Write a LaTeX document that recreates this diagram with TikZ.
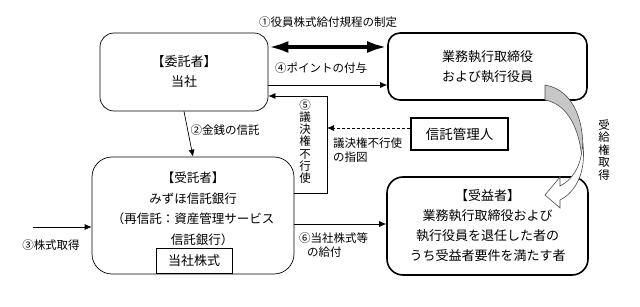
\documentclass[tikz,border=0pt]{standalone}
\usepackage{fontspec}
\setmainfont{Noto Sans CJK JP}
\usetikzlibrary{arrows.meta}

\begin{document}
\begin{tikzpicture}[x=1pt,y=-1pt,
  party/.style={draw,align=center,font=\fontsize{13}{20}\selectfont},
  lbl/.style={font=\fontsize{11.5}{14}\selectfont,inner sep=0pt},
  flow/.style={-{Latex[length=7pt,width=6pt]},line width=0.7pt}]
  \useasboundingbox (0,0) rectangle (640,307);

  % Parties.
  \node[party,rounded corners=14pt,line width=0.7pt,minimum width=168pt,minimum height=78pt]
    (entrust) at (184,72) {【委託者】\\当社};
  \node[party,rounded corners=12pt,line width=1.6pt,minimum width=199pt,minimum height=67pt]
    (officer) at (487.5,66.5) {業務執行取締役\\および執行役員};
  \node[party,rounded corners=20pt,line width=0.7pt,minimum width=202pt,minimum height=117pt]
    (trust) at (193,215.5) {};
  \node[party,rounded corners=16pt,line width=1.6pt,minimum width=201pt,minimum height=98pt]
    (benef) at (487.5,226) {【受益者】\\業務執行取締役および\\執行役員を退任した者の\\うち受益者要件を満たす者};
  \node[party,line width=1.3pt,minimum width=97pt,minimum height=32pt,font=\fontsize{13.5}{16}\selectfont]
    (admin) at (459.5,134) {信託管理人};

  % Trustee text and shares.
  \node[align=center,font=\fontsize{12.5}{20.6}\selectfont] (trusttext) at (193,209) {【受託者】\\みずほ信託銀行\\（再信託：資産管理サービス\\\hspace*{18pt}信託銀行）};
  \node[draw,line width=0.7pt,minimum width=76pt,minimum height=25pt,font=\fontsize{13}{16}\selectfont]
    (shares) at (194,260.5) {当社株式};

  % Connectors.
  \draw[{Latex[length=20pt,width=12pt]}-{Latex[length=20pt,width=12pt]},line width=4pt]
    (entrust.east |- 0,47) -- (officer.west |- 0,47);
  \draw[flow] (entrust.east |- 0,85) -- (officer.west |- 0,85);
  \draw[flow] (entrust.south) -- (trust.north);
  \coordinate (bend) at (327,96);
  \draw[flow] (trust.east |- 0,193) -| (bend) -- (entrust.east |- bend);
  \draw[flow,dash pattern=on 3pt off 2pt] (admin.west |- 0,128) -- (bend |- 0,128);
  \draw[flow] (trust.east |- 0,224) -- (benef.west |- 0,224);
  \coordinate (buy) at (33,227);
  \draw[flow] (buy) -- (trust.west |- buy);

  % Curved arrow.
  \filldraw[fill=black!22,draw=black!70,line width=0.6pt]
    (545,85) -- (545,100) .. controls (568,104) and (580,130) .. (582,160)
    .. controls (586,125) and (575,90) .. cycle;
  \filldraw[fill=white,draw=black!70,line width=0.6pt]
    (583,145) .. controls (586,172) and (576,192) .. (560,200) -- (560,208) -- (545,195)
    -- (560,177) -- (560,186) .. controls (572,180) and (580,168) .. (582,150) -- cycle;

  % Labels.
  \node[lbl] (l1) at (328,22) {①役員株式給付規程の制定};
  \node[lbl] (l4) at (321,68) {④ポイントの付与};
  \node[lbl] (l2) at (225,130) {②金銭の信託};
  \node[lbl] (l3) at (51,245) {③株式取得};
  \node[lbl,align=center,font=\fontsize{11.5}{12.2}\selectfont] (l5) at (305,141.5) {⑤\\議\\決\\権\\不\\行\\使};
  \node[lbl,align=left,anchor=west] (l5b) at (333,150) {議決権不行使\\の指図};
  \node[lbl,align=left,anchor=west] (l6) at (299,245) {⑥当社株式等\\\hspace*{8pt}の給付};
  \node[lbl,align=center,font=\fontsize{11.5}{12.5}\selectfont] (l7) at (604,150) {受\\給\\権\\取\\得};
\end{tikzpicture}
\end{document}
